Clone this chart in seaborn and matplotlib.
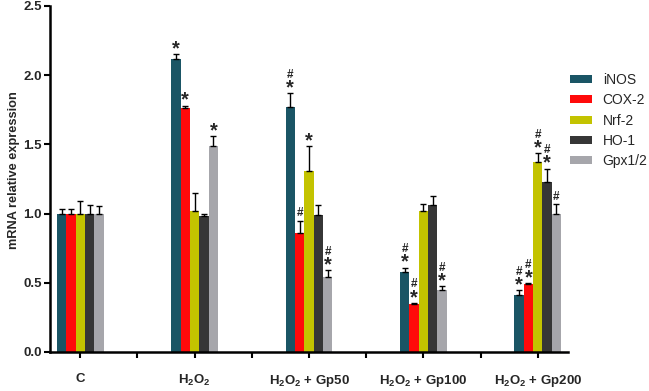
import matplotlib
matplotlib.use("Agg")
import matplotlib.pyplot as plt
import seaborn as sns
import pandas as pd
import numpy as np

# ---- data ----
categories = ["C", "H2O2", "H2O2 + Gp50", "H2O2 + Gp100", "H2O2 + Gp200"]
tick_labels = ["C", "H$_2$O$_2$", "H$_2$O$_2$ + Gp50", "H$_2$O$_2$ + Gp100", "H$_2$O$_2$ + Gp200"]
genes = ["iNOS", "COX-2", "Nrf-2", "HO-1", "Gpx1/2"]

inos = [1.00, 2.12, 1.77, 0.58, 0.41]
cox2 = [1.00, 1.76, 0.86, 0.35, 0.49]
nrf2 = [1.00, 1.02, 1.31, 1.02, 1.37]
ho1 = [1.00, 0.98, 0.99, 1.06, 1.23]
gpx = [1.00, 1.49, 0.54, 0.45, 1.00]

inos_err = [0.036, 0.03, 0.10, 0.03, 0.035]
cox2_err = [0.03, 0.02, 0.09, 0.005, 0.005]
nrf2_err = [0.09, 0.13, 0.18, 0.05, 0.065]
ho1_err = [0.06, 0.02, 0.07, 0.07, 0.095]
gpx_err = [0.055, 0.07, 0.05, 0.026, 0.07]

# significance marks: '*' vs control, '#' vs H2O2
inos_sig = ["", "*", "#*", "#*", "#*"]
cox2_sig = ["", "*", "#", "#*", "#*"]
nrf2_sig = ["", "", "*", "", "#*"]
ho1_sig = ["", "", "", "", "#*"]
gpx_sig = ["", "*", "#*", "#*", "#"]

colors = ["#1a5565", "#ff0a0a", "#c3c300", "#363636", "#a6a6ab"]

values = [inos, cox2, nrf2, ho1, gpx]
errors = [inos_err, cox2_err, nrf2_err, ho1_err, gpx_err]
sigs = [inos_sig, cox2_sig, nrf2_sig, ho1_sig, gpx_sig]

rows = []
for g, vals in zip(genes, values):
    for c, v in zip(categories, vals):
        rows.append({"group": c, "gene": g, "value": v})
df = pd.DataFrame(rows)

# slots: categories separated by empty gaps
gaps = [" " * (i + 1) for i in range(len(categories) - 1)]
order = []
for i, c in enumerate(categories):
    order.append(c)
    if i < len(gaps):
        order.append(gaps[i])

sns.set_style("ticks")
plt.rcParams["font.family"] = ["Liberation Sans", "DejaVu Sans"]
plt.rcParams["mathtext.fontset"] = "custom"
plt.rcParams["mathtext.rm"] = "Liberation Sans:bold"
plt.rcParams["mathtext.bf"] = "Liberation Sans:bold"
plt.rcParams["mathtext.it"] = "Liberation Sans:bold"
plt.rcParams["mathtext.default"] = "bf"

fig = plt.figure(figsize=(6.49, 3.91), dpi=100)
ax = fig.add_axes([50 / 649, 39 / 391, 518 / 649, 346 / 391])

sns.barplot(data=df, x="group", y="value", hue="gene", order=order,
            hue_order=genes, palette=colors, width=0.82, ax=ax,
            errorbar=None, saturation=1, linewidth=0, legend=True)

# error bars and significance marks from bar containers
for cont, errs, sg in zip(ax.containers, errors, sigs):
    for bar, e, s in zip(cont, errs, sg):
        x = bar.get_x() + bar.get_width() / 2
        h = bar.get_height()
        ax.errorbar(x, h, yerr=[[0], [e]], fmt="none", ecolor="black",
                    elinewidth=1.0, capsize=2.3, capthick=1.0)
        top = h + e
        off = 1.0
        if "*" in s:
            ax.annotate("*", (x, top), xytext=(0, off - 4), textcoords="offset points",
                        ha="center", va="bottom", fontsize=14.5, fontweight="bold")
            off += 8.0
        if "#" in s:
            ax.annotate("#", (x, top), xytext=(0, off), textcoords="offset points",
                        ha="center", va="bottom", fontsize=8.5, fontweight="bold")

ax.set_ylim(0, 2.5)
ax.set_xlim(-0.53, len(order) - 0.47)
ax.set_yticks([0, 0.5, 1.0, 1.5, 2.0, 2.5])
ax.set_yticklabels([f"{v:.1f}" for v in [0, 0.5, 1.0, 1.5, 2.0, 2.5]],
                   fontweight="bold", fontsize=9.5)
ax.set_xticks(range(len(order)))
xl = []
k = 0
for o in order:
    if o in categories:
        xl.append(tick_labels[k])
        k += 1
    else:
        xl.append("")
ax.set_xticklabels(xl, fontweight="bold", fontsize=9.5)
ax.tick_params(axis="x", length=4, width=1.5, pad=11, color="black")
ax.tick_params(axis="y", length=4, width=1.5, pad=2, color="black")
ax.set_xlabel("")
ax.set_ylabel("mRNA relative expression", fontweight="bold", fontsize=9.2)
ax.yaxis.set_label_coords(-0.058, 0.526)
for sp in ["top", "right"]:
    ax.spines[sp].set_visible(False)
for sp in ["left", "bottom"]:
    ax.spines[sp].set_linewidth(1.8)
    ax.spines[sp].set_color("black")

ax.legend(loc="upper left", bbox_to_anchor=(1.004, 0.806), frameon=False,
          fontsize=10, handlelength=1.55, handleheight=0.5, handletextpad=0.8,
          labelspacing=0.45, borderpad=0, borderaxespad=0)

fig.savefig("out.png", dpi=100)
